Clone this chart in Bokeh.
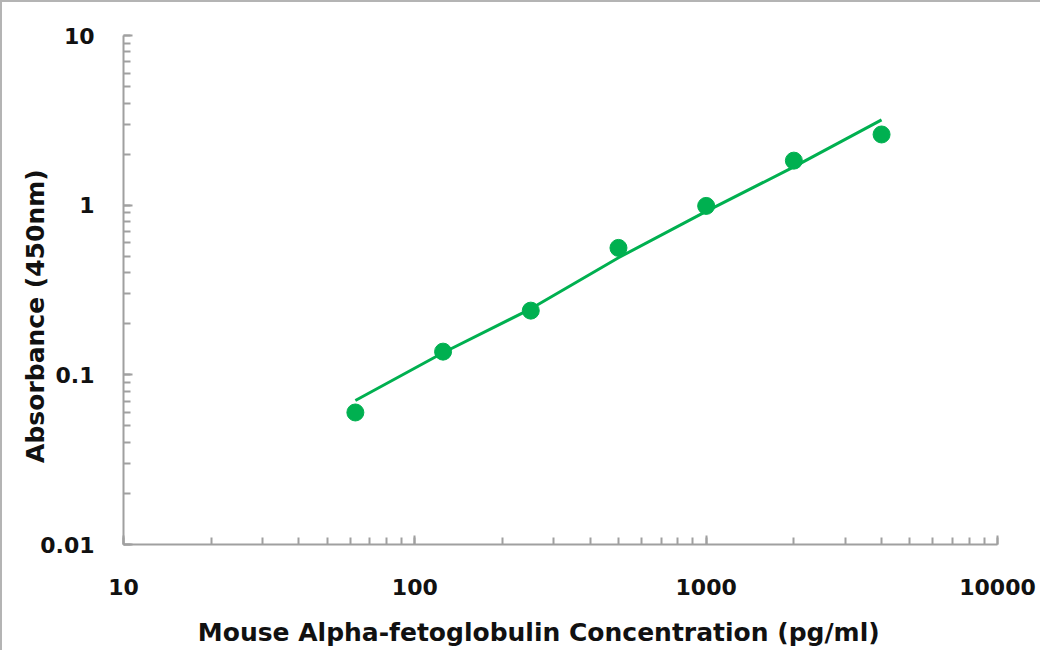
from bokeh.plotting import figure
from bokeh.embed import file_html
from bokeh.resources import INLINE

# Data
conc = [62.5, 125, 250, 500, 1000, 2000, 4000]
absorbance = [0.060, 0.137, 0.239, 0.56, 0.99, 1.83, 2.61]

fit_conc = [62.5, 125, 250, 500, 1000, 2000, 4000]
fit_abs = [0.0706, 0.135, 0.245, 0.49, 0.92, 1.68, 3.18]

x_ticks = [10, 100, 1000, 10000]
x_tick_labels = ["10", "100", "1000", "10000"]
y_ticks = [0.01, 0.1, 1, 10]
y_tick_labels = ["0.01", "0.1", "1", "10"]

x_title = "Mouse Alpha-fetoglobulin Concentration (pg/ml)"
y_title = "Absorbance (450nm)"

GREEN = "#00B050"
AXIS_GRAY = "#a0a0a0"
FONT = "DejaVu Sans"
NB = "\u00a0"

W, H = 1040, 650
p = figure(width=W, height=H, x_axis_type="log", y_axis_type="log",
           x_range=(10, 10000), y_range=(0.01, 10),
           output_backend="svg", toolbar_location=None,
           min_border_left=121, min_border_right=45,
           min_border_top=33, min_border_bottom=108)
p.outline_line_color = None
p.xgrid.visible = False
p.ygrid.visible = False
p.background_fill_color = "white"
p.border_fill_color = "white"
p.styles = {"border-left": "2px solid #b4b4b4", "border-top": "2px solid #b4b4b4"}

for ax, ticks, labels in ((p.xaxis[0], x_ticks, x_tick_labels), (p.yaxis[0], y_ticks, y_tick_labels)):
    ax.ticker.desired_num_ticks = 4
    ax.axis_line_color = AXIS_GRAY
    ax.axis_line_width = 2
    ax.major_tick_line_color = AXIS_GRAY
    ax.minor_tick_line_color = AXIS_GRAY
    ax.major_tick_line_width = 2
    ax.minor_tick_line_width = 2
    ax.major_tick_in = 9
    ax.major_tick_out = 0
    ax.minor_tick_in = 7
    ax.minor_tick_out = 0
    ax.major_label_text_font = FONT
    ax.major_label_text_font_style = "bold"
    ax.major_label_text_font_size = "22px"
    ax.major_label_text_color = "#111111"
    ax.major_label_overrides = {t: l for t, l in zip(ticks, labels)}
    ax.axis_label_text_font = FONT
    ax.axis_label_text_font_style = "bold"
    ax.axis_label_text_font_size = "25px"
    ax.axis_label_text_color = "#111111"

p.xaxis.major_label_standoff = 34
p.yaxis.major_label_standoff = 29

# titles padded with no-break spaces to shift them off-centre as in the reference
p.xaxis.axis_label = x_title + NB * 5
p.yaxis.axis_label = y_title + NB * 6
p.xaxis.axis_label_standoff = 20
p.yaxis.axis_label_standoff = -13

p.line(fit_conc, fit_abs, line_color=GREEN, line_width=3)
p.scatter(conc, absorbance, size=17, fill_color=GREEN, line_color=GREEN, marker="circle")

open("out.html", "w").write(file_html(p, INLINE))
